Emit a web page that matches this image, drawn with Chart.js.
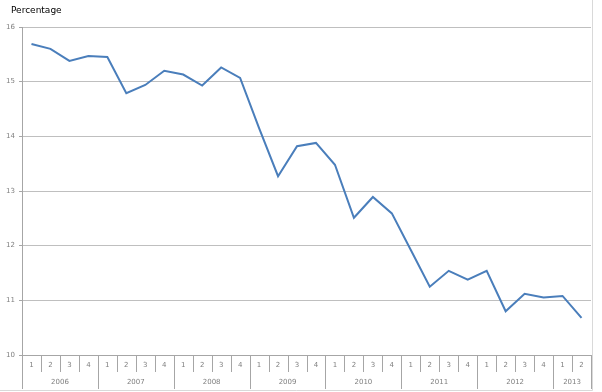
<!DOCTYPE html>
<html>
<head>
<meta charset="utf-8">
<script src="https://cdn.jsdelivr.net/npm/chart.js@4/dist/chart.umd.min.js"></script>
<style>
  html, body { margin: 0; padding: 0; background: #fff; }
  #wrap { width: 602px; height: 392px; position: relative; }
</style>
</head>
<body>
<div id="wrap"><canvas id="chart" width="602" height="392"></canvas></div>
<script>
// Datos: porcentaje trimestral 2006 T1 - 2013 T2
const years = ['2006', '2007', '2008', '2009', '2010', '2011', '2012', '2013'];
const quarters = ['1', '2', '3', '4', '1', '2', '3', '4', '1', '2', '3', '4', '1', '2', '3', '4',
                  '1', '2', '3', '4', '1', '2', '3', '4', '1', '2', '3', '4', '1', '2'];
const values = [15.69, 15.60, 15.38, 15.47, 15.45, 14.79, 14.94, 15.20,
                15.13, 14.93, 15.26, 15.07, 14.15, 13.27, 13.82, 13.88,
                13.48, 12.51, 12.89, 12.59, 11.92, 11.25, 11.54, 11.38,
                11.54, 10.80, 11.12, 11.05, 11.08, 10.68];
const yTicks = [10, 11, 12, 13, 14, 15, 16];

// Plugin para el eje de dos niveles (trimestre / año) y el título
const axisLabels = {
    id: 'axisLabels',
    afterDraw(chart) {
        const ctx = chart.ctx;
        const x = chart.scales.x;
        const area = chart.chartArea;
        const n = quarters.length;
        const step = x.getPixelForValue(1) - x.getPixelForValue(0);
        ctx.save();
        ctx.strokeStyle = '#a6a6a6';
        ctx.lineWidth = 1;
        for (let i = 0; i <= n; i++) {
            const px = Math.round(x.getPixelForValue(Math.min(i, n - 1)) + (i === n ? step / 2 : -step / 2)) + 0.5;
            const isYear = (i % 4 === 0) || i === n;
            ctx.beginPath();
            ctx.moveTo(px, area.bottom);
            ctx.lineTo(px, area.bottom + (isYear ? 34 : 17));
            ctx.stroke();
        }
        ctx.fillStyle = '#7f7f7f';
        ctx.font = '7px "DejaVu Sans"';
        ctx.textAlign = 'center';
        ctx.textBaseline = 'middle';
        quarters.forEach((q, i) => {
            ctx.fillText(q, x.getPixelForValue(i), area.bottom + 10);
        });
        years.forEach((y, k) => {
            const first = k * 4;
            const last = Math.min(first + 3, n - 1);
            const mid = (x.getPixelForValue(first) + x.getPixelForValue(last)) / 2;
            ctx.fillText(y, mid, area.bottom + 27);
        });
        // título
        ctx.fillStyle = '#000';
        ctx.font = '9px "DejaVu Sans"';
        ctx.textAlign = 'left';
        ctx.fillText('Percentage', 11, 11);
        // borde exterior
        ctx.strokeStyle = '#d9d9d9';
        ctx.beginPath();
        ctx.moveTo(592.5, 0);
        ctx.lineTo(592.5, 390.5);
        ctx.lineTo(0, 390.5);
        ctx.stroke();
        ctx.restore();
    }
};

const ctx = document.getElementById('chart').getContext('2d');
new Chart(ctx, {
    type: 'line',
    data: {
        labels: quarters.map((q, i) => years[Math.floor(i / 4)] + ' Q' + q),
        datasets: [{
            label: 'Percentage',
            data: values,
            borderColor: '#4a7ebb',
            borderWidth: 2,
            pointRadius: 0,
            tension: 0,
            fill: false
        }]
    },
    options: {
        responsive: false,
        animation: false,
        layout: { padding: { top: 27, right: 11, bottom: 2, left: 0 } },
        plugins: {
            legend: { display: false },
            tooltip: { enabled: false }
        },
        scales: {
            x: {
                offset: true,
                grid: { display: false },
                ticks: { display: false },
                border: { display: true, color: '#a6a6a6' },
                afterFit(scale) { scale.height = 35; }
            },
            y: {
                min: 10,
                max: 16,
                afterBuildTicks(scale) { scale.ticks = yTicks.map(v => ({ value: v })); },
                grid: { color: '#bfbfbf', lineWidth: 1, tickLength: 3, tickColor: '#a6a6a6' },
                border: { display: true, color: '#a6a6a6' },
                ticks: {
                    color: '#7f7f7f',
                    padding: 4,
                    font: { family: 'DejaVu Sans', size: 7 }
                },
                afterFit(scale) { scale.width = 22; }
            }
        }
    },
    plugins: [axisLabels]
});
</script>
</body>
</html>
